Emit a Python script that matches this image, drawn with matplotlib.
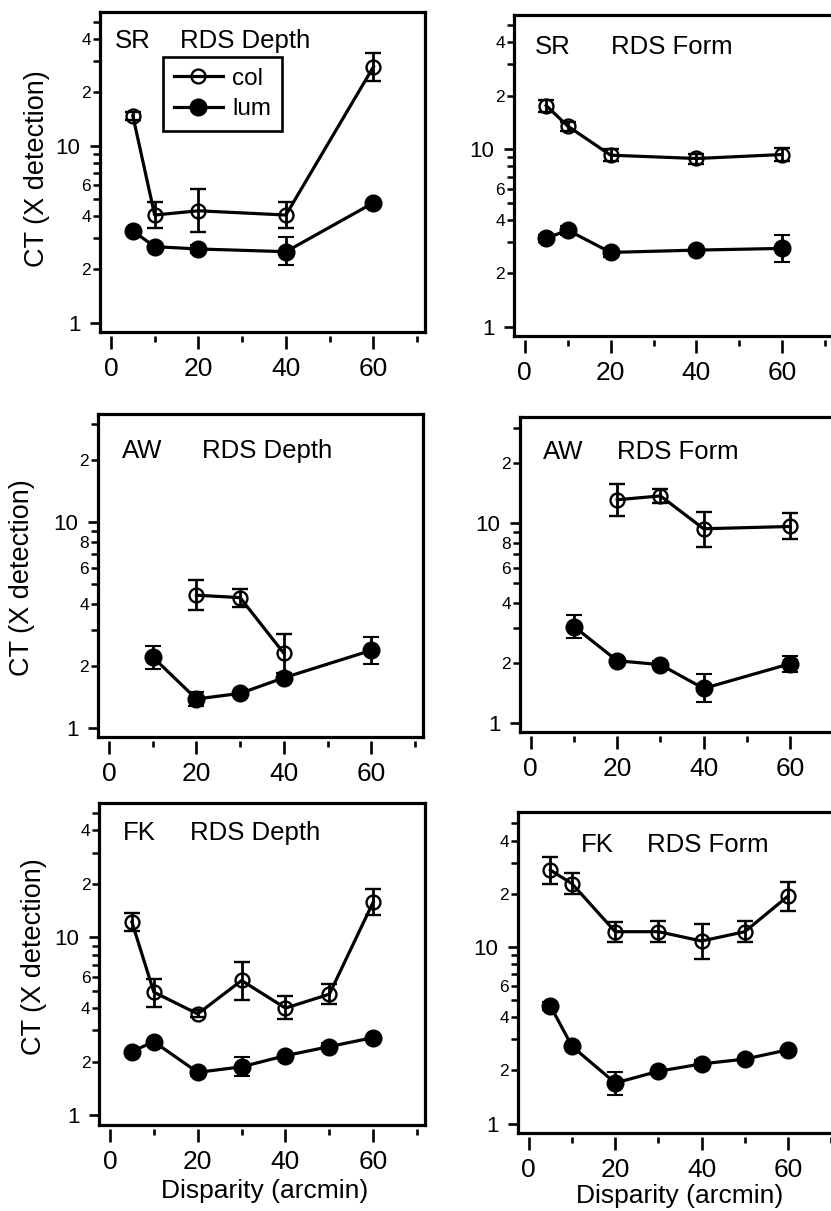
import matplotlib
matplotlib.use("Agg")
import matplotlib.pyplot as plt
from matplotlib.ticker import FixedLocator, FixedFormatter
from matplotlib.lines import Line2D

plt.rcParams['font.family'] = ['Liberation Sans', 'DejaVu Sans']

# ---------------- DATA ----------------
# SR, RDS Depth
sr_depth_col_x = [5, 10, 20, 40, 60]
sr_depth_col_y = [14.8, 4.06, 4.29, 4.06, 27.9]
sr_depth_col_lo = [14.0, 3.44, 3.24, 3.44, 23.3]
sr_depth_col_hi = [15.6, 4.83, 5.72, 4.80, 33.5]
sr_depth_lum_x = [5, 10, 20, 40, 60]
sr_depth_lum_y = [3.3, 2.69, 2.61, 2.52, 4.76]
sr_depth_lum_lo = [3.3, 2.69, 2.47, 2.12, 4.76]
sr_depth_lum_hi = [3.3, 2.69, 2.76, 3.04, 4.76]

# SR, RDS Form
sr_form_col_x = [5, 10, 20, 40, 60]
sr_form_col_y = [17.6, 13.5, 9.25, 8.86, 9.33]
sr_form_col_lo = [16.3, 12.7, 8.6, 8.3, 8.6]
sr_form_col_hi = [19.0, 14.3, 10.0, 9.4, 10.1]
sr_form_lum_x = [5, 10, 20, 40, 60]
sr_form_lum_y = [3.14, 3.50, 2.62, 2.70, 2.76]
sr_form_lum_lo = [3.0, 3.3, 2.48, 2.70, 2.30]
sr_form_lum_hi = [3.3, 3.7, 2.76, 2.70, 3.28]

# AW, RDS Depth
aw_depth_col_x = [20, 30, 40]
aw_depth_col_y = [4.41, 4.29, 2.30]
aw_depth_col_lo = [3.73, 3.87, 1.85]
aw_depth_col_hi = [5.21, 4.74, 2.87]
aw_depth_lum_x = [10, 20, 30, 40, 60]
aw_depth_lum_y = [2.21, 1.38, 1.47, 1.75, 2.38]
aw_depth_lum_lo = [1.94, 1.27, 1.47, 1.75, 2.05]
aw_depth_lum_hi = [2.50, 1.49, 1.47, 1.75, 2.76]

# AW, RDS Form
aw_form_col_x = [20, 30, 40, 60]
aw_form_col_y = [13.1, 13.7, 9.38, 9.63]
aw_form_col_lo = [10.9, 12.6, 7.64, 8.3]
aw_form_col_hi = [15.7, 14.9, 11.4, 11.2]
aw_form_lum_x = [10, 20, 30, 40, 60]
aw_form_lum_y = [3.04, 2.05, 1.96, 1.49, 1.98]
aw_form_lum_lo = [2.67, 2.05, 1.88, 1.27, 1.80]
aw_form_lum_hi = [3.46, 2.05, 2.04, 1.75, 2.16]

# FK, RDS Depth
fk_depth_col_x = [5, 10, 20, 30, 40, 50, 60]
fk_depth_col_y = [12.2, 4.92, 3.71, 5.72, 4.0, 4.79, 15.8]
fk_depth_col_lo = [10.8, 4.08, 3.55, 4.45, 3.46, 4.21, 13.4]
fk_depth_col_hi = [13.7, 5.82, 3.88, 7.23, 4.69, 5.48, 18.8]
fk_depth_lum_x = [5, 10, 20, 30, 40, 50, 60]
fk_depth_lum_y = [2.28, 2.59, 1.74, 1.87, 2.16, 2.43, 2.73]
fk_depth_lum_lo = [2.28, 2.59, 1.66, 1.65, 2.16, 2.33, 2.73]
fk_depth_lum_hi = [2.28, 2.59, 1.82, 2.11, 2.16, 2.53, 2.73]

# FK, RDS Form
fk_form_col_x = [5, 10, 20, 30, 40, 50, 60]
fk_form_col_y = [27.2, 22.8, 12.2, 12.2, 10.8, 12.2, 19.4]
fk_form_col_lo = [22.6, 20.0, 10.7, 10.6, 8.6, 10.7, 16.0]
fk_form_col_hi = [32.3, 26.2, 13.9, 14.1, 13.4, 14.0, 23.3]
fk_form_lum_x = [5, 10, 20, 30, 40, 50, 60]
fk_form_lum_y = [4.64, 2.74, 1.70, 1.98, 2.18, 2.32, 2.62]
fk_form_lum_lo = [4.4, 2.74, 1.46, 1.98, 2.06, 2.32, 2.62]
fk_form_lum_hi = [4.9, 2.74, 1.96, 1.98, 2.30, 2.32, 2.62]

subjects = ["SR", "SR", "AW", "AW", "FK", "FK"]
tasks = ["RDS Depth", "RDS Form", "RDS Depth", "RDS Form", "RDS Depth", "RDS Form"]
series_labels = ["col", "lum"]

x_major_ticks = [0, 20, 40, 60]
x_major_labels = ["0", "20", "40", "60"]
x_minor_ticks = [10, 30, 50, 70]

y_major_ticks = [1, 10]
y_major_labels = ["1", "10"]
y_minor_ticks_wide = [2, 3, 4, 5, 6, 7, 8, 9, 20, 30, 40, 50]
y_minor_labels_wide = ["2", "", "4", "", "6", "", "", "", "2", "", "4", ""]
y_minor_ticks_narrow = [2, 3, 4, 5, 6, 7, 8, 9, 20, 30]
y_minor_labels_narrow = ["2", "", "4", "", "6", "", "8", "", "2", ""]

ylabel_text = "CT (X detection)"
xlabel_text = "Disparity (arcmin)"

# ---------------- LAYOUT ----------------
W, H = 831, 1211
fig = plt.figure(figsize=(W / 100, H / 100), dpi=100)

# axes boxes in pixels: left, right, top, bottom
boxes = [
    (100, 425, 12, 332),
    (514, 833, 15, 336),
    (98, 423, 414, 737),
    (520, 841, 417, 732),
    (99, 425, 803, 1125),
    (518, 839, 812, 1133),
]
ylims = [(0.886, 57), (0.886, 57), (0.902, 33.5), (0.902, 34), (0.88, 57), (0.886, 58)]
subj_pos = [(115, 48), (535, 54), (122, 458), (543, 459), (123, 840), (581, 852)]
task_pos = [(180, 48), (611, 54), (202, 458), (617, 459), (190, 840), (647, 852)]

panel_data = [
    ((sr_depth_col_x, sr_depth_col_y, sr_depth_col_lo, sr_depth_col_hi),
     (sr_depth_lum_x, sr_depth_lum_y, sr_depth_lum_lo, sr_depth_lum_hi)),
    ((sr_form_col_x, sr_form_col_y, sr_form_col_lo, sr_form_col_hi),
     (sr_form_lum_x, sr_form_lum_y, sr_form_lum_lo, sr_form_lum_hi)),
    ((aw_depth_col_x, aw_depth_col_y, aw_depth_col_lo, aw_depth_col_hi),
     (aw_depth_lum_x, aw_depth_lum_y, aw_depth_lum_lo, aw_depth_lum_hi)),
    ((aw_form_col_x, aw_form_col_y, aw_form_col_lo, aw_form_col_hi),
     (aw_form_lum_x, aw_form_lum_y, aw_form_lum_lo, aw_form_lum_hi)),
    ((fk_depth_col_x, fk_depth_col_y, fk_depth_col_lo, fk_depth_col_hi),
     (fk_depth_lum_x, fk_depth_lum_y, fk_depth_lum_lo, fk_depth_lum_hi)),
    ((fk_form_col_x, fk_form_col_y, fk_form_col_lo, fk_form_col_hi),
     (fk_form_lum_x, fk_form_lum_y, fk_form_lum_lo, fk_form_lum_hi)),
]

LW = 2.3
FRAME_LW = 2.3
TITLE_FS = 18.5

axes = []
for i, (l, r, t, b) in enumerate(boxes):
    ax = fig.add_axes([l / W, 1 - b / H, (r - l) / W, (b - t) / H])
    axes.append(ax)
    ax.set_yscale('log')
    ax.set_xlim(-2.5, 71.8)
    ax.set_ylim(*ylims[i])

    (cx, cy, clo, chi), (lx, ly, llo, lhi) = panel_data[i]
    col_err = [[v - lo for v, lo in zip(cy, clo)], [hi - v for v, hi in zip(cy, chi)]]
    lum_err = [[v - lo for v, lo in zip(ly, llo)], [hi - v for v, hi in zip(ly, lhi)]]

    ax.errorbar(cx, cy, yerr=col_err, color='k', lw=LW, elinewidth=2.0, capsize=5.5,
                capthick=2.0, marker='o', ms=10, mfc='none', mec='k', mew=1.7,
                zorder=3)
    ax.errorbar(lx, ly, yerr=lum_err, color='k', lw=LW, elinewidth=2.0, capsize=5.5,
                capthick=2.0, marker='o', ms=11.5, mfc='k', mec='k', mew=1.5,
                zorder=3)

    # ticks
    ax.xaxis.set_major_locator(FixedLocator(x_major_ticks))
    ax.xaxis.set_major_formatter(FixedFormatter(x_major_labels))
    ax.xaxis.set_minor_locator(FixedLocator(x_minor_ticks))
    ax.yaxis.set_major_locator(FixedLocator(y_major_ticks))
    ax.yaxis.set_major_formatter(FixedFormatter(y_major_labels))
    if i in (2, 3):
        ax.yaxis.set_minor_locator(FixedLocator(y_minor_ticks_narrow))
        ax.yaxis.set_minor_formatter(FixedFormatter(y_minor_labels_narrow))
    else:
        ax.yaxis.set_minor_locator(FixedLocator(y_minor_ticks_wide))
        ax.yaxis.set_minor_formatter(FixedFormatter(y_minor_labels_wide))

    ax.tick_params(axis='x', which='major', direction='out', length=9, width=1.9,
                   labelsize=19, pad=6, colors='k')
    ax.tick_params(axis='x', which='minor', direction='out', length=4.5, width=1.9)
    ax.tick_params(axis='y', which='major', direction='out', length=7, width=1.9,
                   labelsize=16, pad=7, colors='k')
    ax.tick_params(axis='y', which='minor', direction='out', length=4.8, width=1.8,
                   labelsize=12.5, pad=1.5, colors='k')

    for s in ('top', 'right', 'left'):
        ax.spines[s].set_linewidth(FRAME_LW)
        ax.spines[s].set_color('k')
    ax.spines['bottom'].set_position(('outward', 3))
    ax.spines['bottom'].set_color('none')
    # bottom edge of the frame box
    ax.plot([0, 1], [0, 0], transform=ax.transAxes, color='k', lw=FRAME_LW,
            clip_on=False, solid_capstyle='projecting', zorder=5)

    fig.text(subj_pos[i][0] / W, 1 - subj_pos[i][1] / H, subjects[i], fontsize=TITLE_FS,
             ha='left', va='baseline')
    fig.text(task_pos[i][0] / W, 1 - task_pos[i][1] / H, tasks[i], fontsize=TITLE_FS,
             ha='left', va='baseline')

# legend in the first panel (line + marker only)
handles = [
    Line2D([], [], color='k', lw=LW, marker='o', ms=10, mfc='none', mec='k', mew=1.7),
    Line2D([], [], color='k', lw=LW, marker='o', ms=11.5, mfc='k', mec='k', mew=1.5),
]
leg = axes[0].legend(handles, series_labels, loc='upper left',
                     bbox_to_anchor=(163 / W, 1 - 57 / H),
                     bbox_transform=fig.transFigure, borderaxespad=0, frameon=True,
                     fancybox=False, edgecolor='k', framealpha=1, fontsize=17.5,
                     handlelength=2.0, handletextpad=0.4, borderpad=0.45,
                     labelspacing=0.35)
leg.get_frame().set_linewidth(1.9)

# y labels
for (xc, yc) in [(37, 169), (22, 578), (34, 957)]:
    fig.text(xc / W, 1 - yc / H, ylabel_text, fontsize=19.5, rotation=90,
             ha='center', va='center')
# x labels
for (xc, yb) in [(265, 1198), (680, 1203)]:
    fig.text(xc / W, 1 - yb / H, xlabel_text, fontsize=19, ha='center', va='baseline')

fig.savefig("out.png", dpi=100)
